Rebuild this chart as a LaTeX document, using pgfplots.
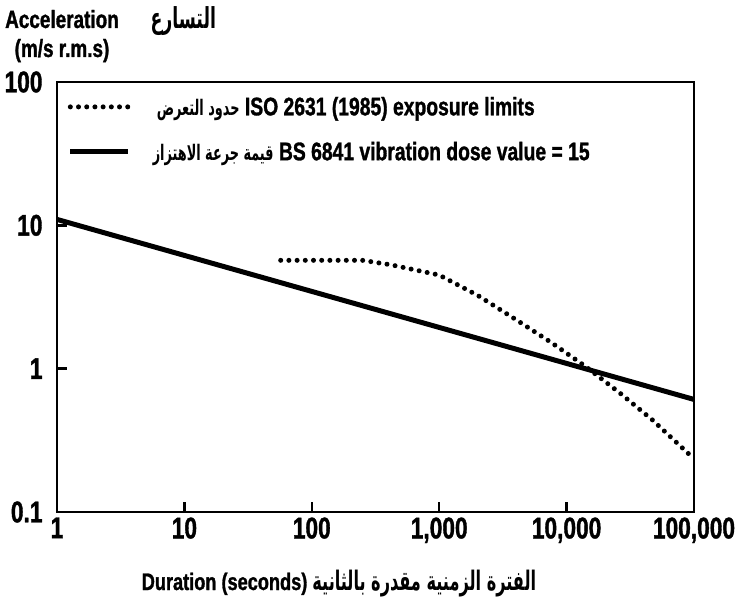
\documentclass[border=0pt]{standalone}
\usepackage{fontspec}
\usepackage{pgfplots}
\pgfplotsset{compat=1.18}
\setmainfont{Liberation Sans}[FakeStretch=0.76, BoldFeatures={FakeBold=1.2}]
\newfontfamily\arabicfont[Script=Arabic, FakeStretch=0.6]{DejaVu Sans}
\TeXXeTstate=1
\begin{document}
\begin{tikzpicture}
\useasboundingbox (-57bp,-85bp) rectangle (679bp,512bp);
\begin{axis}[
  at={(0,0)}, anchor=south west,
  scale only axis, width=637bp, height=430bp,
  xmode=log, ymode=log,
  xmin=1, xmax=100000, ymin=0.1, ymax=100,
  axis line style={line width=2.6bp},
  xtick={1,10,100,1000,10000,100000},
  xticklabels={1,10,100,{1,000},{10,000},{100,000}},
  ytick={0.1,1,10,100},
  yticklabels={0.1,1,10,100},
  xtick pos=bottom, ytick pos=left,
  tick align=inside,
  major tick length=10bp,
  major tick style={line width=2.4bp, black},
  minor tick num=0,
  xminorticks=false, yminorticks=false,
  /pgf/number format/assume math mode=true,
  tick label style={font=\fontsize{30}{32}\selectfont\bfseries},
  xticklabel style={yshift=-2bp},
  yticklabel style={xshift=-11bp},
  legend style={at={(0.012,0.975)}, anchor=north west, draw=none, fill=none,
    font=\fontsize{25.5}{28}\selectfont\bfseries, row sep=21bp,
    nodes={inner xsep=12bp}},
  legend cell align=left,
  legend image code/.code={\draw[#1] (0bp,0bp) -- (58bp,0bp);},
]
\addplot[black, line width=5bp, dash pattern=on 0bp off 8.2bp, line cap=round] coordinates {
  (57,5.7) (100,5.7) (250,5.7) (420,5.3) (1000,4.5) (2000,3.25) (4000,2.2)
  (7600,1.52) (14000,1.04) (26000,0.68) (47000,0.44) (100000,0.235)
};
\addlegendentry{\hspace{14bp}{\fontsize{21.5}{23}\arabicfont\bfseries\beginR حدود التعرض\endR} ISO 2631 (1985) exposure limits}
\addplot[black, line width=5bp] coordinates {(1,11.0) (100000,0.61)};
\addlegendentry{\hspace{10bp}{\fontsize{21.5}{23}\arabicfont\bfseries\beginR قيمة جرعة الاهتزاز\endR} BS 6841 vibration dose value = 15}
\end{axis}
\node[anchor=base, font=\fontsize{25}{28}\selectfont\bfseries] at (5bp,484bp) {Acceleration};
\node[anchor=base, font=\fontsize{25}{28}\selectfont\bfseries] at (5bp,455bp) {(m/s r.m.s)};
\node[anchor=base west] at (90bp,483bp) {\fontsize{29}{29}\arabicfont\bfseries\beginR التسارع\endR};
\node[anchor=base, font=\fontsize{24}{28}\selectfont\bfseries] at (282bp,-78bp) {Duration (seconds) {\fontsize{27}{29}\arabicfont\bfseries\beginR الفترة الزمنية مقدرة بالثانية\endR}};
\end{tikzpicture}
\end{document}
